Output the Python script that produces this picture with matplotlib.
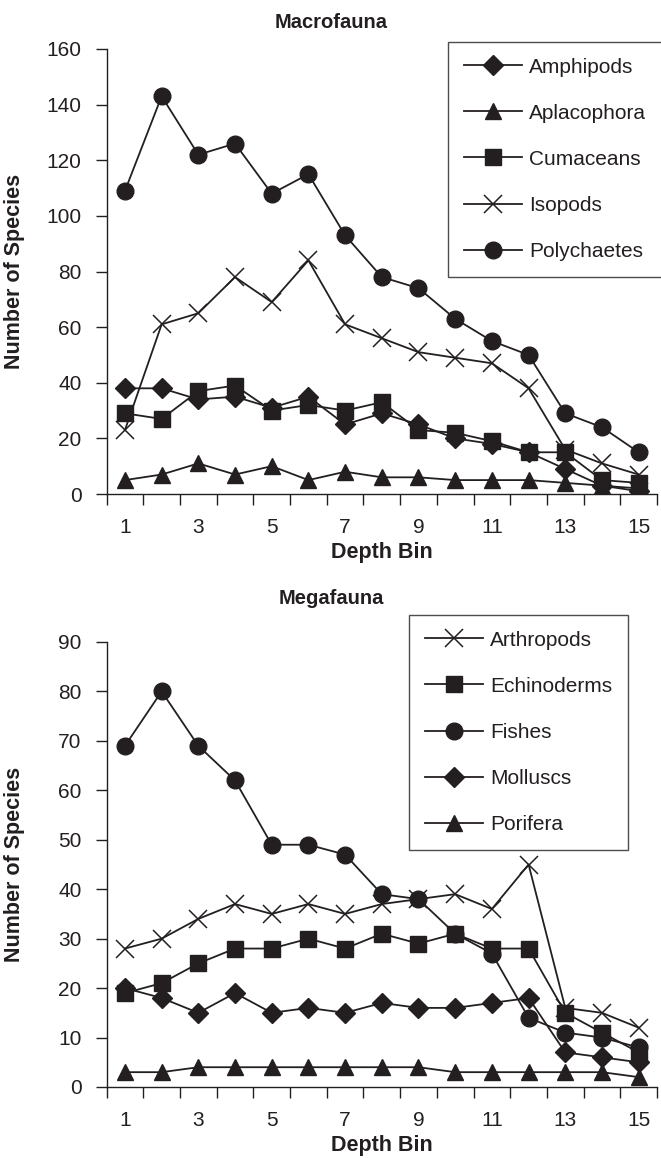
import numpy as np
import matplotlib
matplotlib.use("Agg")
import matplotlib.pyplot as plt

plt.rcParams['font.family'] = ['Liberation Sans', 'DejaVu Sans']

# depth bins
bins = list(range(1, 16))

# Macrofauna
amphipods = [38, 38, 34, 35, 31, 35, 25, 29, 25, 20, 18, 15, 9, 3, 1]
aplacophora = [5, 7, 11, 7, 10, 5, 8, 6, 6, 5, 5, 5, 4, 3, 2]
cumaceans = [29, 27, 37, 39, 30, 32, 30, 33, 23, 22, 19, 15, 15, 5, 4]
isopods = [23, 61, 65, 78, 69, 84, 61, 56, 51, 49, 47, 38, 16, 11, 7]
polychaetes = [109, 143, 122, 126, 108, 115, 93, 78, 74, 63, 55, 50, 29, 24, 15]

# Megafauna
arthropods = [28, 30, 34, 37, 35, 37, 35, 37, 38, 39, 36, 45, 16, 15, 12]
echinoderms = [19, 21, 25, 28, 28, 30, 28, 31, 29, 31, 28, 28, 15, 11, 7]
fishes = [69, 80, 69, 62, 49, 49, 47, 39, 38, 31, 27, 14, 11, 10, 8]
molluscs = [20, 18, 15, 19, 15, 16, 15, 17, 16, 16, 17, 18, 7, 6, 5]
porifera = [3, 3, 4, 4, 4, 4, 4, 4, 4, 3, 3, 3, 3, 3, 2]

INK = '#231f20'
W, H = 661, 1158
FS = 15

sty = {
    'D': dict(marker='D', markersize=10.5),
    '^': dict(marker='^', markersize=11),
    's': dict(marker='s', markersize=11),
    'x': dict(marker='x', markersize=13, markeredgewidth=1.1),
    'o': dict(marker='o', markersize=12),
}


def panel(ax, series, ymax, ystep, leg_xy):
    for name, vals, m in series:
        ax.plot(bins, vals, color=INK, lw=1.3, markerfacecolor=INK,
                markeredgecolor=INK, label=name, **sty[m])
    ax.set_xlim(0.5, 15.5)
    ax.set_ylim(0, ymax)
    ax.set_yticks(np.arange(0, ymax + 1, ystep))
    ax.set_xticks(np.arange(0.5, 15.6, 1))
    ax.set_xticklabels([])
    ax.set_xticks(bins[::2], minor=True)
    ax.set_xticklabels([str(b) for b in bins[::2]], minor=True)
    ax.tick_params(axis='x', which='major', length=8, width=1, color=INK)
    ax.tick_params(axis='x', which='minor', length=0, pad=17,
                   labelsize=FS, labelcolor=INK)
    ax.tick_params(axis='y', length=8, width=1, color=INK,
                   labelsize=FS, labelcolor=INK, pad=10)
    for s in ['top', 'right']:
        ax.spines[s].set_visible(False)
    for s in ['left', 'bottom']:
        ax.spines[s].set_color(INK)
        ax.spines[s].set_linewidth(1)
    ax.set_xlabel('Depth Bin', fontsize=15.5, fontweight='bold', color=INK,
                  labelpad=4)
    ax.set_ylabel('Number of Species', fontsize=15.5, fontweight='bold',
                  color=INK)
    ax.yaxis.set_label_coords(-0.148, 0.5)
    leg = ax.legend(loc='upper left', bbox_to_anchor=leg_xy,
                    bbox_transform=fig.transFigure, borderaxespad=0,
                    frameon=True, fancybox=False, handlelength=2.8,
                    labelspacing=1.3, fontsize=FS, borderpad=0.75,
                    handletextpad=0.35)
    leg.get_frame().set_edgecolor(INK)
    leg.get_frame().set_linewidth(1)
    for t in leg.get_texts():
        t.set_color(INK)


fig = plt.figure(figsize=(W / 100, H / 100), dpi=100)
left = 106.6 / W
width = (657 - 106.6) / W
ax1 = fig.add_axes([left, 1 - 494 / H, width, 445 / H])
ax2 = fig.add_axes([left, 1 - 1087 / H, width, 445 / H])

panel(ax1, [('Amphipods', amphipods, 'D'), ('Aplacophora', aplacophora, '^'),
            ('Cumaceans', cumaceans, 's'), ('Isopods', isopods, 'x'),
            ('Polychaetes', polychaetes, 'o')],
      160, 20, (448 / W, 1 - 42 / H))
panel(ax2, [('Arthropods', arthropods, 'x'), ('Echinoderms', echinoderms, 's'),
            ('Fishes', fishes, 'o'), ('Molluscs', molluscs, 'D'),
            ('Porifera', porifera, '^')],
      90, 10, (409 / W, 1 - 615 / H))

fig.text(331 / W, 1 - 23 / H, 'Macrofauna', ha='center', va='center',
         fontsize=14.5, fontweight='bold', color=INK)
fig.text(331 / W, 1 - 598 / H, 'Megafauna', ha='center', va='center',
         fontsize=14.5, fontweight='bold', color=INK)

fig.savefig('out.png', dpi=100)
